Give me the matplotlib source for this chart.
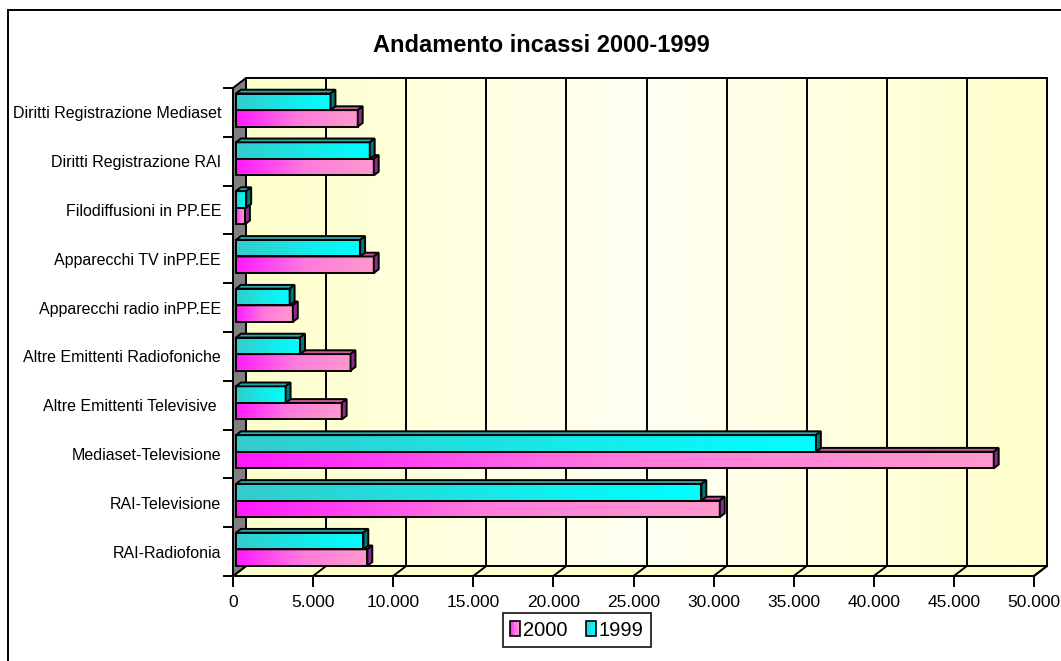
import numpy as np
import matplotlib
matplotlib.use('Agg')
import matplotlib.pyplot as plt
from matplotlib import colors
from matplotlib import transforms as mtransforms
from matplotlib.patches import Rectangle, Polygon, Patch
from matplotlib.legend_handler import HandlerBase
from matplotlib.ticker import FuncFormatter

plt.rcParams['font.family'] = ['Liberation Sans', 'DejaVu Sans']

# ---- data (bottom to top) ----
CATEGORIES = ['RAI-Radiofonia', 'RAI-Televisione', 'Mediaset-Televisione',
              'Altre Emittenti Televisive ', 'Altre Emittenti Radiofoniche',
              'Apparecchi radio inPP.EE', 'Apparecchi TV inPP.EE',
              'Filodiffusioni in PP.EE', 'Diritti Registrazione RAI',
              'Diritti Registrazione Mediaset']
VAL_2000 = [8200, 30200, 47300, 6600, 7150, 3550, 8600, 560, 8600, 7600]
VAL_1999 = [7950, 29050, 36200, 3100, 4000, 3350, 7750, 640, 8350, 5900]
SERIES = ['2000', '1999']
XMAX = 50000
XSTEP = 5000
TITLE = 'Andamento incassi 2000-1999'

# ---- style ----
DPI = 100
LW = 1.4
DX, DY = 13, 10          # depth of the 3d box, pixels
D0, D1 = 0.23, 0.61      # front / back depth of the bars
H = 0.34                 # bar thickness (category units)
pink_cmap = colors.LinearSegmentedColormap.from_list('pink', ['#FF1AFF', '#FF7ADD', '#FF99CC'])
cyan_cmap = colors.LinearSegmentedColormap.from_list('cyan', ['#33CCCC', '#1AE6E6', '#00FFFF'])
wall_cmap = colors.LinearSegmentedColormap.from_list('wall', ['#FFFFCC', '#FFFFF2', '#FFFFCC'])
PINK_TOP, PINK_SIDE = '#CC5AA0', '#8B2C8B'
CYAN_TOP, CYAN_SIDE = '#2AA6A6', '#007878'

fig = plt.figure(figsize=(10.61, 6.61), dpi=DPI)
ax = fig.add_axes([233/1061, 1-576/661, 801/1061, 488/661])
ax.set_autoscale_on(False)
ax.set_xlim(0, XMAX)
ax.set_ylim(-0.5, len(CATEGORIES)-0.5)
for s in ax.spines.values():
    s.set_visible(False)
ax.patch.set_visible(False)

YLO, YHI = -0.5, len(CATEGORIES)-0.5
xticks = np.arange(0, XMAX+1, XSTEP)


def depth(d):
    return ax.transData + mtransforms.ScaledTranslation(d*DX/DPI, d*DY/DPI, fig.dpi_scale_trans)


def to_disp(xy, d):
    out = ax.transData.transform(np.array(xy, float))
    return out + np.outer(d, [DX, DY])


def face(xy, d, fc, z):
    p = Polygon(to_disp(xy, d), closed=True, transform=mtransforms.IdentityTransform(),
                facecolor=fc, edgecolor='k', lw=LW, zorder=z, clip_on=False, joinstyle='miter')
    ax.add_patch(p)


# back wall
ax.imshow(np.linspace(0, 1, 256)[None, :], cmap=wall_cmap, extent=(0, XMAX, YLO, YHI),
          transform=depth(1), aspect='auto', zorder=0, clip_on=False, interpolation='bilinear')
ax.add_patch(Rectangle((0, YLO), XMAX, YHI-YLO, fill=False, edgecolor='k', lw=LW,
                       transform=depth(1), zorder=1, clip_on=False))
ax.vlines(xticks, YLO, YHI, colors='k', lw=LW, transform=depth(1), zorder=1, clip_on=False)

# floor and left wall
face([(0, YLO), (XMAX, YLO), (XMAX, YLO), (0, YLO)], [0, 0, 1, 1], '#FFFFCC', 2)
for xt in xticks:
    seg = to_disp([(xt, YLO), (xt, YLO)], [0, 1])
    ax.plot(seg[:, 0], seg[:, 1], color='k', lw=LW, transform=mtransforms.IdentityTransform(),
            zorder=2.1, clip_on=False)
face([(0, YLO), (0, YHI), (0, YHI), (0, YLO)], [0, 0, 1, 1], '#808080', 2.2)


def bar3d(v, y0, y1, cmap, top, side, z):
    ax.imshow(np.linspace(0, 1, 256)[None, :], cmap=cmap, extent=(0, v, y0, y1),
              transform=depth(D0), aspect='auto', zorder=z, clip_on=False, interpolation='bilinear')
    ax.add_patch(Rectangle((0, y0), v, y1-y0, fill=False, edgecolor='k', lw=LW,
                           transform=depth(D0), zorder=z+0.1, clip_on=False))
    face([(0, y1), (v, y1), (v, y1), (0, y1)], [D0, D0, D1, D1], top, z+0.2)
    face([(v, y0), (v, y1), (v, y1), (v, y0)], [D0, D0, D1, D1], side, z+0.3)


z = 3
for i in range(len(CATEGORIES)):
    bar3d(VAL_2000[i], i-H, i, pink_cmap, PINK_TOP, PINK_SIDE, z)
    bar3d(VAL_1999[i], i, i+H, cyan_cmap, CYAN_TOP, CYAN_SIDE, z+1)
    z += 2

# axes ticks
ax.set_xticks(xticks)
ax.xaxis.set_major_formatter(FuncFormatter(lambda v, p: f"{int(v):,}".replace(',', '.')))
ax.tick_params(axis='x', length=8, width=LW, pad=6, labelsize=12.5, direction='out')
ax.set_yticks(range(len(CATEGORIES)))
ax.set_yticklabels(CATEGORIES)
ax.set_yticks(np.arange(YLO, YHI+0.1, 1), minor=True)
ax.tick_params(axis='y', which='major', length=0, pad=8.6, labelsize=11.5)
ax.tick_params(axis='y', which='minor', length=7.2, width=LW, direction='out')

fig.text(541/1061, 1-46/661, TITLE, fontsize=17, fontweight='bold', ha='center', va='center')

# outer chart border
fig.add_artist(Rectangle((8/1061, -0.1), 2, 1-10/661+0.1, transform=fig.transFigure,
                         fill=False, edgecolor='k', lw=LW, clip_on=False))


class GradientHandler(HandlerBase):
    def __init__(self, cmap):
        super().__init__()
        self.cmap = cmap

    def create_artists(self, legend, orig_handle, xdescent, ydescent, width, height, fontsize, trans):
        n = 10
        arts = []
        for k in range(n):
            arts.append(Rectangle((-xdescent + k*width/n, -ydescent), width/n, height,
                                  facecolor=self.cmap((k+0.5)/n), edgecolor='none', transform=trans))
        arts.append(Rectangle((-xdescent, -ydescent), width, height, fill=False,
                              edgecolor='k', lw=1.2, transform=trans))
        return arts


h2000 = Patch(label=SERIES[0])
h1999 = Patch(label=SERIES[1])
leg = fig.legend(handles=[h2000, h1999], loc='center', bbox_to_anchor=(577/1061, 1-630/661),
                 ncol=2, fontsize=14.5, frameon=True, fancybox=False, handlelength=0.5,
                 handleheight=0.72, handletextpad=0.15, columnspacing=0.9, borderpad=0.35,
                 handler_map={h2000: GradientHandler(pink_cmap), h1999: GradientHandler(cyan_cmap)})
leg.get_frame().set_edgecolor('k')
leg.get_frame().set_linewidth(LW)

fig.savefig('out.png', dpi=DPI)
